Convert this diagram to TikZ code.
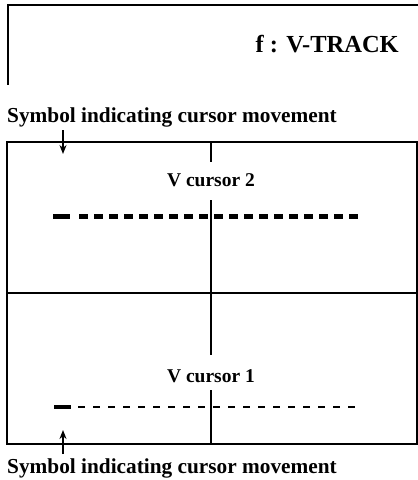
\documentclass[tikz,border=0pt]{standalone}
\usepackage{fontspec}
\setmainfont{Liberation Serif}
\usetikzlibrary{arrows.meta}
\begin{document}
\begin{tikzpicture}[x=1pt,y=-1pt,
  lbl/.style={inner sep=0pt,font=\bfseries\fontsize{21.3}{21.3}\selectfont},
  cur/.style={inner sep=0pt,font=\bfseries\fontsize{19.5}{19.5}\selectfont},
  ttl/.style={inner sep=0pt,font=\bfseries\fontsize{24.5}{24.5}\selectfont},
  frame/.style={line width=2.3pt},
  ptr/.style={line width=1.6pt,-{Stealth[length=9pt,width=7pt]}},
  thickcur/.style={line width=5pt,dash pattern=on 8.5pt off 6.5pt},
  thincur/.style={line width=2pt,dash pattern=on 7pt off 8pt}]
\useasboundingbox (0,0) rectangle (418,480);
% header box
\draw[line width=1.5pt] (418,5) -- (8,5) -- (8,85);
\node[ttl,anchor=base east] (title) at (399,52) {f : V-TRACK};
% labels
\node[lbl,anchor=base west] (symtop) at (7,122) {Symbol indicating cursor movement};
\node[lbl,anchor=base west] (symbot) at (7,473) {Symbol indicating cursor movement};
% frame
\draw[frame] (7,142) rectangle (417,444);
\draw[frame] (7,293) -- (417,293);
\draw[line width=1.6pt] (211,142) -- (211,162);
\draw[line width=1.6pt] (211,200) -- (211,355);
\draw[line width=1.6pt] (211,390) -- (211,444);
% cursor labels
\node[cur,anchor=base] (vc2) at (211,186) {V cursor 2};
\node[cur,anchor=base] (vc1) at (211,382) {V cursor 1};
% cursor 2
\coordinate (c2s) at (53,216);
\coordinate (c2e) at (358,216);
\draw[line width=5pt] (c2s) -- (70,216);
\draw[thickcur] (79,216) -- (c2e);
% cursor 1
\coordinate (c1s) at (54,407);
\coordinate (c1e) at (358,407);
\draw[line width=4.5pt] (c1s) -- (71,407);
\draw[thincur] (78,407) -- (c1e);
% pointers
\coordinate (ptop) at (63,154);
\coordinate (pbot) at (63,430);
\draw[ptr] (63,130) -- (ptop);
\draw[ptr] (63,454) -- (pbot);
\end{tikzpicture}
\end{document}
